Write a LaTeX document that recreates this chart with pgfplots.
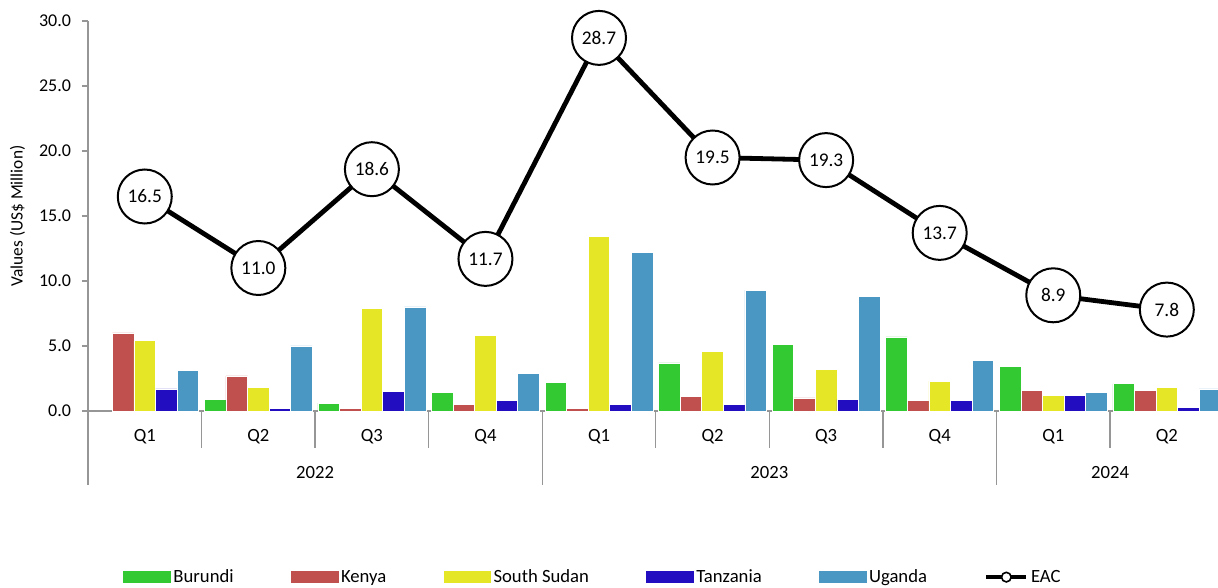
\documentclass[border=0pt]{standalone}
\usepackage{pgfplots}
\pgfplotsset{compat=1.18}
\usepackage{fontspec}
\setmainfont{Carlito}
\definecolor{cB}{RGB}{51,201,51}
\definecolor{cK}{RGB}{192,80,77}
\definecolor{cS}{RGB}{229,230,38}
\definecolor{cT}{RGB}{34,14,192}
\definecolor{cU}{RGB}{75,151,196}
\definecolor{axgray}{RGB}{150,150,150}
\begin{document}
\begin{tikzpicture}[
  qlab/.style={font=\fontsize{14}{16}\selectfont, yshift=-19pt},
  ylab/.style={font=\fontsize{14}{16}\selectfont, yshift=-46.5pt}]
\useasboundingbox (-66pt,-132.75pt) rectangle (847.5pt,308.25pt);
\begin{axis}[
  scale only axis, width=851.7pt, height=292.5pt,
  xmin=-0.5, xmax=9.5, ymin=0, ymax=30,
  axis lines=left, axis line style={-, axgray, line width=1pt},
  clip=false,
  tick align=outside,
  tick style={axgray, line width=1pt},
  ytick={0,5,...,30},
  ytick style={/pgfplots/major tick length=4.5pt},
  y tick label style={font=\fontsize{13.5}{15}\selectfont, xshift=-5pt,
    /pgf/number format/fixed, /pgf/number format/zerofill,
    /pgf/number format/precision=1, /pgf/number format/assume math mode=true},
  xtick={-0.5,0.5,...,9.5},
  xticklabels={},
  xtick style={/pgfplots/major tick length=27.75pt},
  ylabel={Values (US\$ Million)},
  ylabel style={at={(axis description cs:-0.062,0.5)}, anchor=center, font=\fontsize{13}{15}\selectfont},
  legend columns=6,
  legend style={at={(axis description cs:0.445,-0.426)}, anchor=center, draw=none,
    font=\fontsize{14}{16}\selectfont,
    /tikz/every even column/.append style={column sep=41pt}},
]
\addplot[ybar, bar width=0.19, bar shift=-0.38, fill=cB, draw=white, line width=0.5pt,
  legend image code/.code={\fill[cB] (0pt,-4.1pt) rectangle (35pt,4.1pt);}]
  coordinates {(1,0.9) (2,0.6) (3,1.4) (4,2.2) (5,3.7) (6,5.1) (7,5.7) (8,3.4) (9,2.1)};
\addlegendentry{Burundi}
\addplot[ybar, bar width=0.19, bar shift=-0.19, fill=cK, draw=white, line width=0.5pt,
  legend image code/.code={\fill[cK] (0pt,-4.1pt) rectangle (35pt,4.1pt);}]
  coordinates {(0,6.0) (1,2.7) (2,0.2) (3,0.5) (4,0.2) (5,1.1) (6,1.0) (7,0.8) (8,1.6) (9,1.6)};
\addlegendentry{Kenya}
\addplot[ybar, bar width=0.19, bar shift=0, fill=cS, draw=white, line width=0.5pt,
  legend image code/.code={\fill[cS] (0pt,-4.1pt) rectangle (35pt,4.1pt);}]
  coordinates {(0,5.4) (1,1.8) (2,7.9) (3,5.8) (4,13.4) (5,4.6) (6,3.2) (7,2.3) (8,1.2) (9,1.8)};
\addlegendentry{South Sudan}
\addplot[ybar, bar width=0.19, bar shift=0.19, fill=cT, draw=white, line width=0.5pt,
  legend image code/.code={\fill[cT] (0pt,-4.1pt) rectangle (35pt,4.1pt);}]
  coordinates {(0,1.7) (1,0.2) (2,1.5) (3,0.8) (4,0.5) (5,0.5) (6,0.9) (7,0.8) (8,1.2) (9,0.3)};
\addlegendentry{Tanzania}
\addplot[ybar, bar width=0.19, bar shift=0.38, fill=cU, draw=white, line width=0.5pt,
  legend image code/.code={\fill[cU] (0pt,-4.1pt) rectangle (35pt,4.1pt);}]
  coordinates {(0,3.1) (1,5.0) (2,8.0) (3,2.9) (4,12.2) (5,9.3) (6,8.8) (7,3.9) (8,1.4) (9,1.7)};
\addlegendentry{Uganda}
\addplot[black, line width=3.6pt, mark=none,
  nodes near coords, nodes near coords align=center,
  every node near coord/.append style={circle, draw=black, fill=white, line width=1.5pt,
    minimum size=40.5pt, inner sep=0pt, anchor=center, text=black,
    font=\fontsize{14.5}{17}\selectfont,
    /pgf/number format/fixed, /pgf/number format/zerofill,
    /pgf/number format/precision=1, /pgf/number format/assume math mode=true},
  legend image code/.code={\draw[black, line width=3pt] (0pt,0pt) -- (30pt,0pt);
    \draw[black, fill=white, line width=1.2pt] (15pt,0pt) circle (3.6pt);}]
  coordinates {(0,16.5) (1,11.0) (2,18.6) (3,11.7) (4,28.7) (5,19.5) (6,19.3) (7,13.7) (8,8.9) (9,7.8)};
\addlegendentry{EAC}
% longer separators between the years
\draw[axgray, line width=1pt] (axis cs:-0.5,0) -- ++(0pt,-55.5pt);
\draw[axgray, line width=1pt] (axis cs:3.5,0) -- ++(0pt,-55.5pt);
\draw[axgray, line width=1pt] (axis cs:7.5,0) -- ++(0pt,-55.5pt);
% quarter labels
\node[qlab] at (axis cs:0,0) {Q1};
\node[qlab] at (axis cs:1,0) {Q2};
\node[qlab] at (axis cs:2,0) {Q3};
\node[qlab] at (axis cs:3,0) {Q4};
\node[qlab] at (axis cs:4,0) {Q1};
\node[qlab] at (axis cs:5,0) {Q2};
\node[qlab] at (axis cs:6,0) {Q3};
\node[qlab] at (axis cs:7,0) {Q4};
\node[qlab] at (axis cs:8,0) {Q1};
\node[qlab] at (axis cs:9,0) {Q2};
% year labels
\node[ylab] at (axis cs:1.5,0) {2022};
\node[ylab] at (axis cs:5.5,0) {2023};
\node[ylab] at (axis cs:8.5,0) {2024};
\end{axis}
\end{tikzpicture}
\end{document}
